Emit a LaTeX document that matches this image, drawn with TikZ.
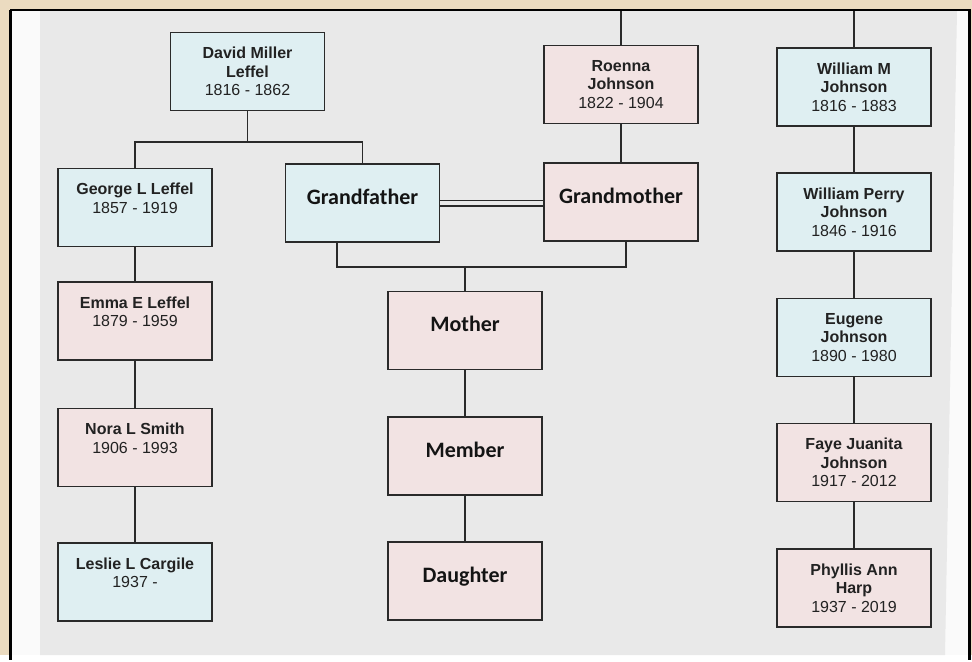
\documentclass[tikz,border=0pt]{standalone}
\usepackage{fontspec}
\setmainfont{Liberation Sans}
\newfontfamily\calfont{Carlito}
\definecolor{cBeige}{HTML}{EBDBC0}
\definecolor{cPaper}{HTML}{E9E9E9}
\definecolor{cSheet}{HTML}{FAFAFA}
\definecolor{cBlue}{HTML}{DFEFF2}
\definecolor{cPink}{HTML}{F2E3E3}
\definecolor{cInk}{HTML}{2A2A2A}
\definecolor{cText}{HTML}{222222}
\begin{document}
\begin{tikzpicture}[x=1pt,y=-1pt,
  box/.style={draw=cInk, line width=1.7pt, minimum width=154pt, minimum height=78pt,
    inner sep=0pt, align=center, text=cText, font=\fontsize{16}{18.7}\selectfont},
  bluebox/.style={box, fill=cBlue},
  pinkbox/.style={box, fill=cPink},
  bigtext/.style={font=\calfont\bfseries\fontsize{22}{26}\selectfont, text=black!92,
    text height=12.5pt, text depth=10.5pt},
  link/.style={draw=cInk, line width=1.7pt},
  marriage/.style={draw=cInk, line width=1.5pt, double=cPaper, double distance=4pt}
]
% background and frame
\fill[cBeige] (0,0) rectangle (972,655);
\fill[cSheet] (11,11) rectangle (969,655);
\fill[cPaper] (40,11) -- (957,11) -- (945,655) -- (40,655) -- cycle;
\draw[black, line width=2.6pt] (10.3,10) -- (969.5,10) -- (969.5,660);
\draw[black, line width=2.8pt] (10.3,10) -- (10.3,660);

% left column
\node[bluebox] (david) at (247.5,71.5) {\textbf{David Miller}\\\textbf{Leffel}\\1816 - 1862};
\node[bluebox] (george) at (135,207.5) {\textbf{George L Leffel}\\1857 - 1919\\\mbox{}};
\node[pinkbox] (emma) at (135,321) {\textbf{Emma E Leffel}\\1879 - 1959\\\mbox{}};
\node[pinkbox] (nora) at (135,447.5) {\textbf{Nora L Smith}\\1906 - 1993\\\mbox{}};
\node[bluebox] (leslie) at (135,582) {\textbf{Leslie L Cargile}\\1937 -\\\mbox{}};

% middle
\node[bluebox, bigtext] (gfather) at (362.5,203) {Grandfather};
\node[pinkbox] (roenna) at (621,84.5) {\textbf{Roenna}\\\textbf{Johnson}\\1822 - 1904};
\node[pinkbox, bigtext] (gmother) at (621,202) {Grandmother};
\node[pinkbox, bigtext] (mother) at (465,330.5) {Mother};
\node[pinkbox, bigtext] (member) at (465,456) {Member};
\node[pinkbox, bigtext] (daughter) at (465,581) {Daughter};

% right column
\node[bluebox] (wm) at (854,87) {\textbf{William M}\\\textbf{Johnson}\\1816 - 1883};
\node[bluebox] (wp) at (854,212) {\textbf{William Perry}\\\textbf{Johnson}\\1846 - 1916};
\node[bluebox] (eugene) at (854,337.5) {\textbf{Eugene}\\\textbf{Johnson}\\1890 - 1980};
\node[pinkbox] (faye) at (854,462.5) {\textbf{Faye Juanita}\\\textbf{Johnson}\\1917 - 2012};
\node[pinkbox] (phyllis) at (854,588) {\textbf{Phyllis Ann}\\\textbf{Harp}\\1937 - 2019};

% junction coordinates
\coordinate (dj) at (247.5,142);
\coordinate (mj) at (465,267);
\coordinate (rtop) at (621,11);
\coordinate (wtop) at (854,11);

% connectors
\draw[link] (david.south) -- (dj);
\draw[link] (george.north) |- (dj) -| (gfather.north);
\draw[link] (george) -- (emma);
\draw[link] (emma) -- (nora);
\draw[link] (nora) -- (leslie);

\draw[link] (rtop) -- (roenna.north);
\draw[link] (roenna) -- (gmother);
\draw[marriage] (gfather.east) -- (gfather.east -| gmother.west);
\draw[link] ([xshift=-25.5pt]gfather.south) |- (mj) -| ([xshift=5pt]gmother.south);
\draw[link] (mj) -- (mother.north);
\draw[link] (mother) -- (member);
\draw[link] (member) -- (daughter);

\draw[link] (wtop) -- (wm.north);
\draw[link] (wm) -- (wp);
\draw[link] (wp) -- (eugene);
\draw[link] (eugene) -- (faye);
\draw[link] (faye) -- (phyllis);
\end{tikzpicture}
\end{document}
